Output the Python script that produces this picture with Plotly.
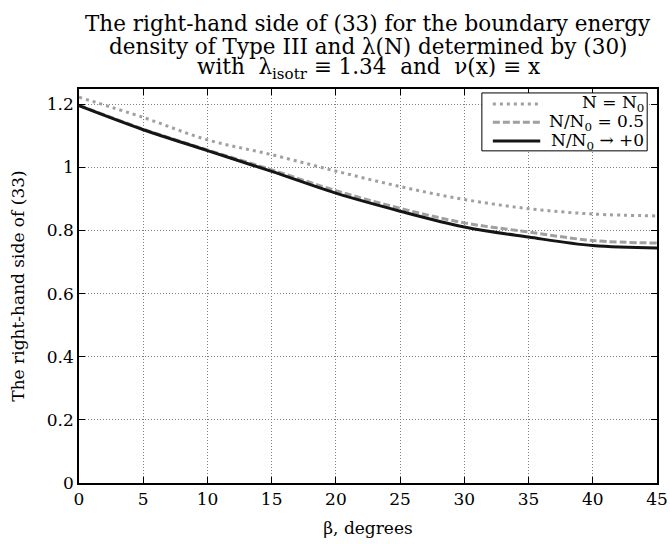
import plotly.graph_objects as go

beta = [0, 5, 10, 15, 20, 25, 30, 35, 40, 45]
rhs_N0 = [1.222, 1.158, 1.087, 1.040, 0.988, 0.939, 0.898, 0.869, 0.852, 0.846]
rhs_half = [1.197, 1.121, 1.055, 0.992, 0.926, 0.870, 0.824, 0.795, 0.768, 0.760]
rhs_zero = [1.195, 1.119, 1.053, 0.987, 0.918, 0.861, 0.811, 0.779, 0.752, 0.744]

names = ["N = N<sub>0</sub>", "N/N<sub>0</sub> = 0.5", "N/N<sub>0</sub> \u2192 +0"]
series = [rhs_N0, rhs_half, rhs_zero]
colors = ["#a0a0a0", "#a0a0a0", "#151515"]
dashes = ["3px,4px", "7px,3px", "solid"]

title_lines = [
    "The right-hand side of (33) for the boundary energy",
    "density of Type III and \u03bb(N) determined by (30)",
    "with  \u03bb<sub>isotr</sub> \u2261 1.34  and  \u03bd(x) \u2261 x",
]

FONT = "DejaVu Serif"

fig = go.Figure()
for y, nm, c, d in zip(series, names, colors, dashes):
    fig.add_trace(go.Scatter(x=beta, y=y, mode="lines", line_shape="spline",
                             name=nm, showlegend=False,
                             line=dict(color=c, width=3, dash=d)))

# title as three tightly spaced lines
for txt, ys in zip(title_lines, [66, 43, 21]):
    fig.add_annotation(xref="paper", yref="paper", x=0.5, y=1, yshift=ys,
                       xanchor="center", yanchor="middle", showarrow=False,
                       text=txt, font=dict(family=FONT, size=21.5, color="black"))

# manual legend (right-aligned labels, as in the reference)
lx0, lx1, ly0, ly1 = 0.697, 0.983, 0.843, 0.990
fig.add_shape(type="rect", xref="paper", yref="paper", x0=lx0, x1=lx1, y0=ly0, y1=ly1,
              line=dict(color="black", width=1), fillcolor="white", layer="above")
rows = [0.962, 0.9155, 0.868]
for ry, nm, c, d in zip(rows, names, colors, dashes):
    fig.add_shape(type="line", xref="paper", yref="paper", x0=0.716, x1=0.798, y0=ry, y1=ry,
                  line=dict(color=c, width=3, dash=d), layer="above")
    fig.add_annotation(xref="paper", yref="paper", x=0.979, y=ry, xanchor="right", yanchor="middle",
                       text=nm, showarrow=False, borderpad=0,
                       font=dict(family=FONT, size=17, color="black"))

fig.update_layout(
    width=670, height=544,
    margin=dict(l=79, r=13, t=89, b=61),
    paper_bgcolor="white", plot_bgcolor="white",
    font=dict(family=FONT, color="black", size=16),
    showlegend=False,
)

fig.update_xaxes(
    range=[0, 45], tickmode="linear", tick0=0, dtick=5, automargin=False,
    showline=True, linecolor="black", linewidth=1.5, mirror="ticks",
    ticks="inside", ticklen=6, tickcolor="black",
    showgrid=True, gridcolor="#808080", griddash="1px,2px", gridwidth=1,
    zeroline=False,
    title=dict(text="\u03b2, degrees", font=dict(size=17), standoff=14),
    tickfont=dict(size=17),
)
fig.update_yaxes(
    range=[0, 1.248], tickmode="linear", tick0=0, dtick=0.2, automargin=False,
    showline=True, linecolor="black", linewidth=1.5, mirror="ticks",
    ticks="inside", ticklen=6, tickcolor="black",
    showgrid=True, gridcolor="#808080", griddash="1px,2px", gridwidth=1,
    zeroline=False,
    title=dict(text="The right-hand side of (33)", font=dict(size=17), standoff=18),
    tickfont=dict(size=17),
)

fig.write_html("out.html")
